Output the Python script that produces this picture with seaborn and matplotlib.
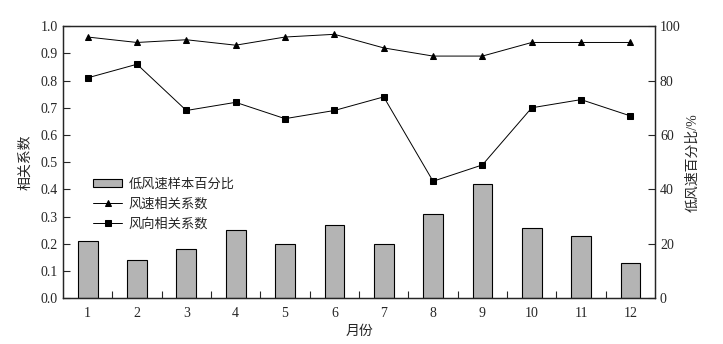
import pandas as pd
import matplotlib
matplotlib.use('Agg')
import matplotlib.pyplot as plt
import seaborn as sns

months = list(range(1, 13))
low_wind_pct = [21, 14, 18, 25, 20, 27, 20, 31, 42, 26, 23, 13]
speed_corr = [0.96, 0.94, 0.95, 0.93, 0.96, 0.97, 0.92, 0.89, 0.89, 0.94, 0.94, 0.94]
dir_corr = [0.81, 0.86, 0.69, 0.72, 0.66, 0.69, 0.74, 0.43, 0.49, 0.70, 0.73, 0.67]

df = pd.DataFrame({'month': months, 'pct': low_wind_pct,
                   'speed': speed_corr, 'dir': dir_corr})

sns.set_style('ticks')
plt.rcParams['font.family'] = ['Liberation Serif', 'Noto Sans CJK SC']
plt.rcParams['axes.linewidth'] = 0.9

fig = plt.figure(figsize=(7.23, 3.44), dpi=100)
ax = fig.add_axes([0.0871, 0.133, 0.819, 0.791])
ax2 = ax.twinx()

# bars on the right (percent) axis
sns.barplot(data=df, x='month', y='pct', ax=ax2, native_scale=True, width=0.4,
            color='#b4b4b4', edgecolor='black', linewidth=0.8, saturation=1,
            label='低风速样本百分比')

sns.lineplot(data=df, x='month', y='speed', ax=ax, color='black', lw=0.7,
             marker='^', markersize=5, markeredgecolor='black',
             label='风速相关系数')
sns.lineplot(data=df, x='month', y='dir', ax=ax, color='black', lw=0.7,
             marker='s', markersize=5, markeredgecolor='black',
             label='风向相关系数')

ax.set_zorder(ax2.get_zorder() + 1)
ax.patch.set_visible(False)

ax.set_xlim(0.5, 12.5)
ax.set_ylim(0, 1.0)
ax2.set_ylim(0, 100)
ax.set_yticks([i / 10 for i in range(11)])
ax.set_yticklabels([f'{i / 10:.1f}' for i in range(11)])
ax2.set_yticks(range(0, 101, 20))

ax.set_xticks(months)
ax.set_xticks([m + 0.5 for m in months[:-1]], minor=True)
ax.tick_params(axis='x', which='major', length=0, labelsize=10, pad=6)
ax.tick_params(axis='x', which='minor', direction='in', length=5, width=0.8)
ax.tick_params(axis='y', direction='in', length=5, width=0.8, labelsize=10)
ax2.tick_params(axis='y', direction='in', length=5, width=0.8, labelsize=10)
ax2.tick_params(axis='x', which='both', length=0)

ax.set_xlabel('月份', fontsize=10, labelpad=4)
ax.set_ylabel('相关系数', fontsize=10, labelpad=6)
ax2.set_ylabel('低风速百分比/%', fontsize=10, labelpad=4)

h1, l1 = ax2.get_legend_handles_labels()
h2, l2 = ax.get_legend_handles_labels()
ax.legend(h1 + h2, l1 + l2, loc='upper left', bbox_to_anchor=(0.042, 0.46),
          frameon=False, fontsize=9.5, handlelength=2.2, handleheight=0.6,
          handletextpad=0.5, labelspacing=0.55, borderaxespad=0)
if ax2.get_legend() is not None:
    ax2.get_legend().remove()

fig.savefig('out.png', dpi=100)
